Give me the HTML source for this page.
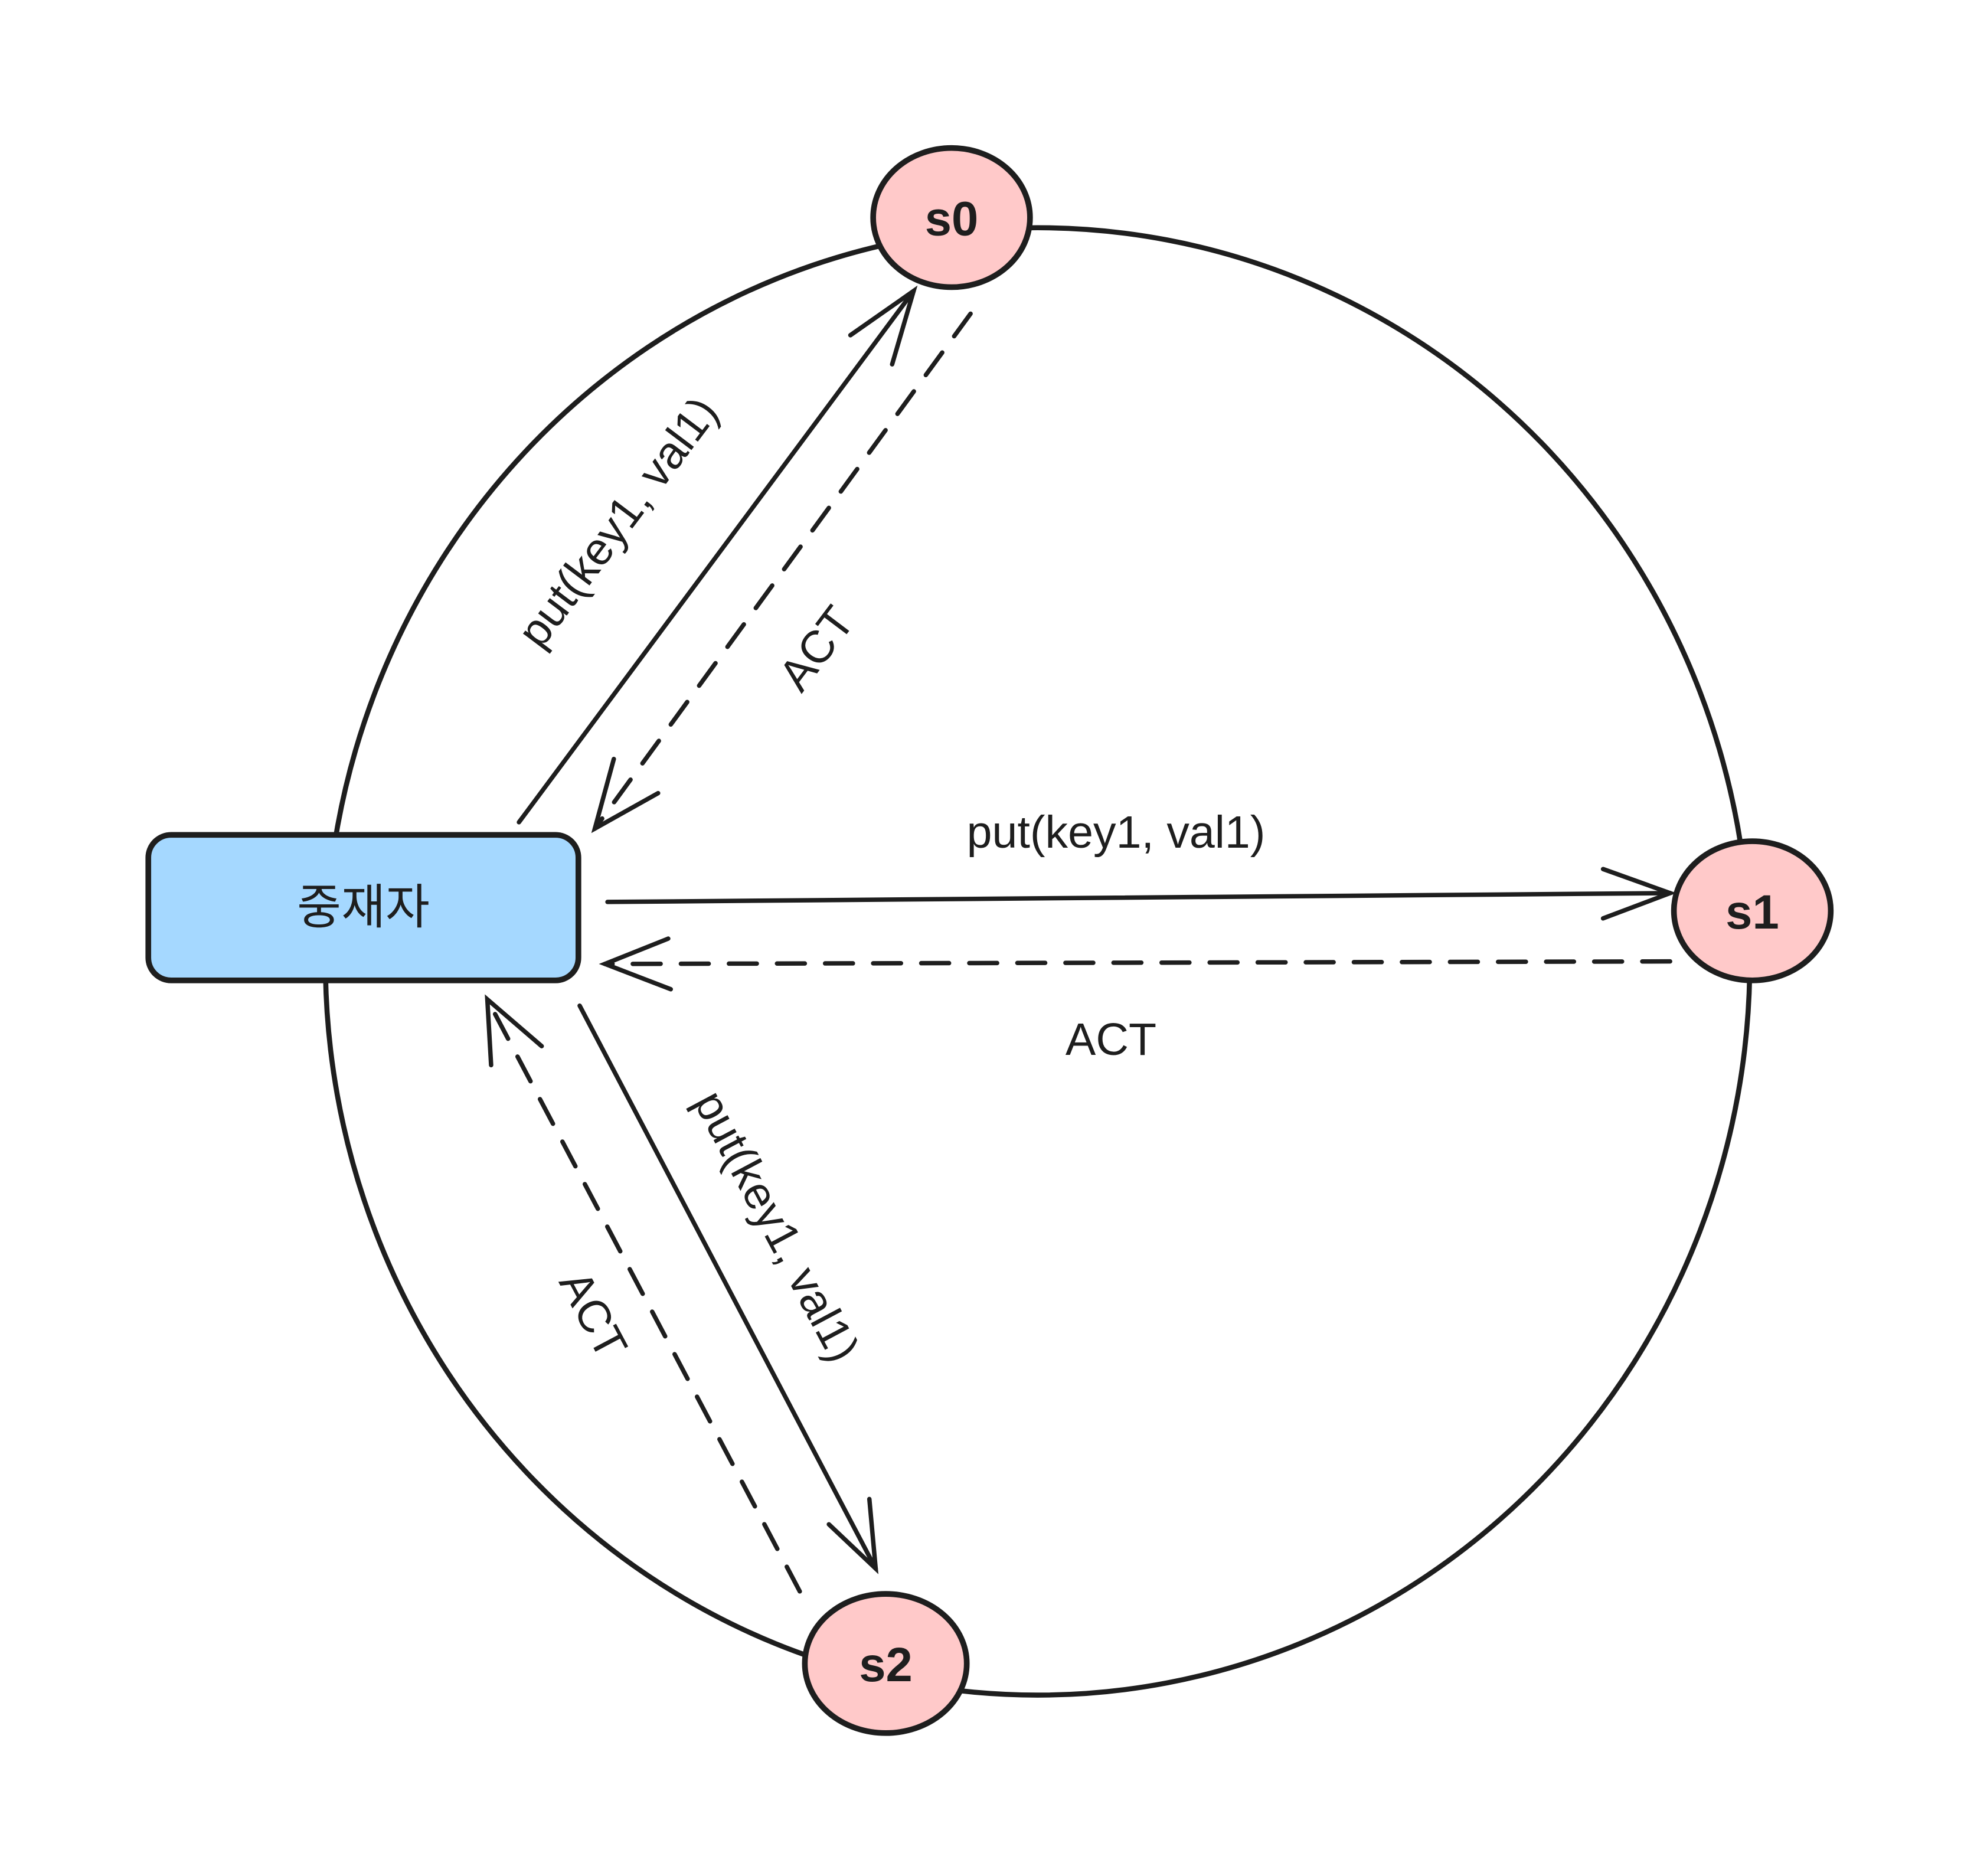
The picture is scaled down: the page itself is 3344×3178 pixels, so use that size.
<!DOCTYPE html>
<html><head><meta charset="utf-8"><style>html,body{margin:0;padding:0;background:#fff}svg{display:block}</style></head>
<body>
<svg width="3344" height="3178" viewBox="0 0 1560 1483" xmlns="http://www.w3.org/2000/svg">
<rect width="1560" height="1483" fill="#fff"/>
<g fill="none" stroke="#1e1e1e" stroke-width="4" stroke-linecap="round">
<ellipse cx="820" cy="760" rx="563" ry="580"/>
</g>
<g stroke="#1e1e1e" stroke-width="4.5" fill="#ffc9c9">
<ellipse cx="752" cy="172" rx="62" ry="55"/>
<ellipse cx="1385" cy="720" rx="62" ry="55"/>
<ellipse cx="700" cy="1315" rx="64" ry="55"/>
</g>
<rect x="117" y="660" width="340" height="115" rx="18" fill="#a5d8ff" stroke="#1e1e1e" stroke-width="4.5"/>
<g fill="none" stroke="#1e1e1e" stroke-width="3.5" stroke-linecap="round">
<path d="M410 650 L722 230"/><path d="M672 265 L722 230 L705 288"/>
<path d="M767 248 L470 655" stroke-dasharray="22 16"/><path d="M485 600 L470 655 L520 627"/>
<path d="M480 713 L1320 706"/><path d="M1267 687 L1320 706 L1267 726"/>
<path d="M1320 760 L478 762" stroke-dasharray="22 16"/><path d="M528 742 L478 762 L530 782"/>
<path d="M458 795 L692 1240"/><path d="M655 1205 L692 1240 L687 1185"/>
<path d="M632 1258 L385 790" stroke-dasharray="22 16"/><path d="M388 842 L385 790 L428 827"/>
</g>
<g font-family="Liberation Sans, sans-serif" fill="#1e1e1e" text-anchor="middle" font-size="38" font-weight="bold">
<text x="752" y="186">s0</text>
<text x="1385" y="734">s1</text>
<text x="700" y="1329">s2</text>
</g>
<text x="287" y="730" text-anchor="middle" fill="#1e1e1e" font-family="Liberation Sans, 'Noto Sans CJK KR', sans-serif" font-size="38">중재자</text>
<g font-family="Liberation Sans, sans-serif" fill="#1e1e1e" text-anchor="middle" font-size="36">
<text transform="translate(498,420) rotate(-53)">put(key1, val1)</text>
<text transform="translate(655,520) rotate(-53)">ACT</text>
<text x="882" y="670">put(key1, val1)</text>
<text x="878" y="834">ACT</text>
<text transform="translate(603,975) rotate(62)">put(key1, val1)</text>
<text transform="translate(458,1045) rotate(62)">ACT</text>
</g>
</svg>
</body></html>
